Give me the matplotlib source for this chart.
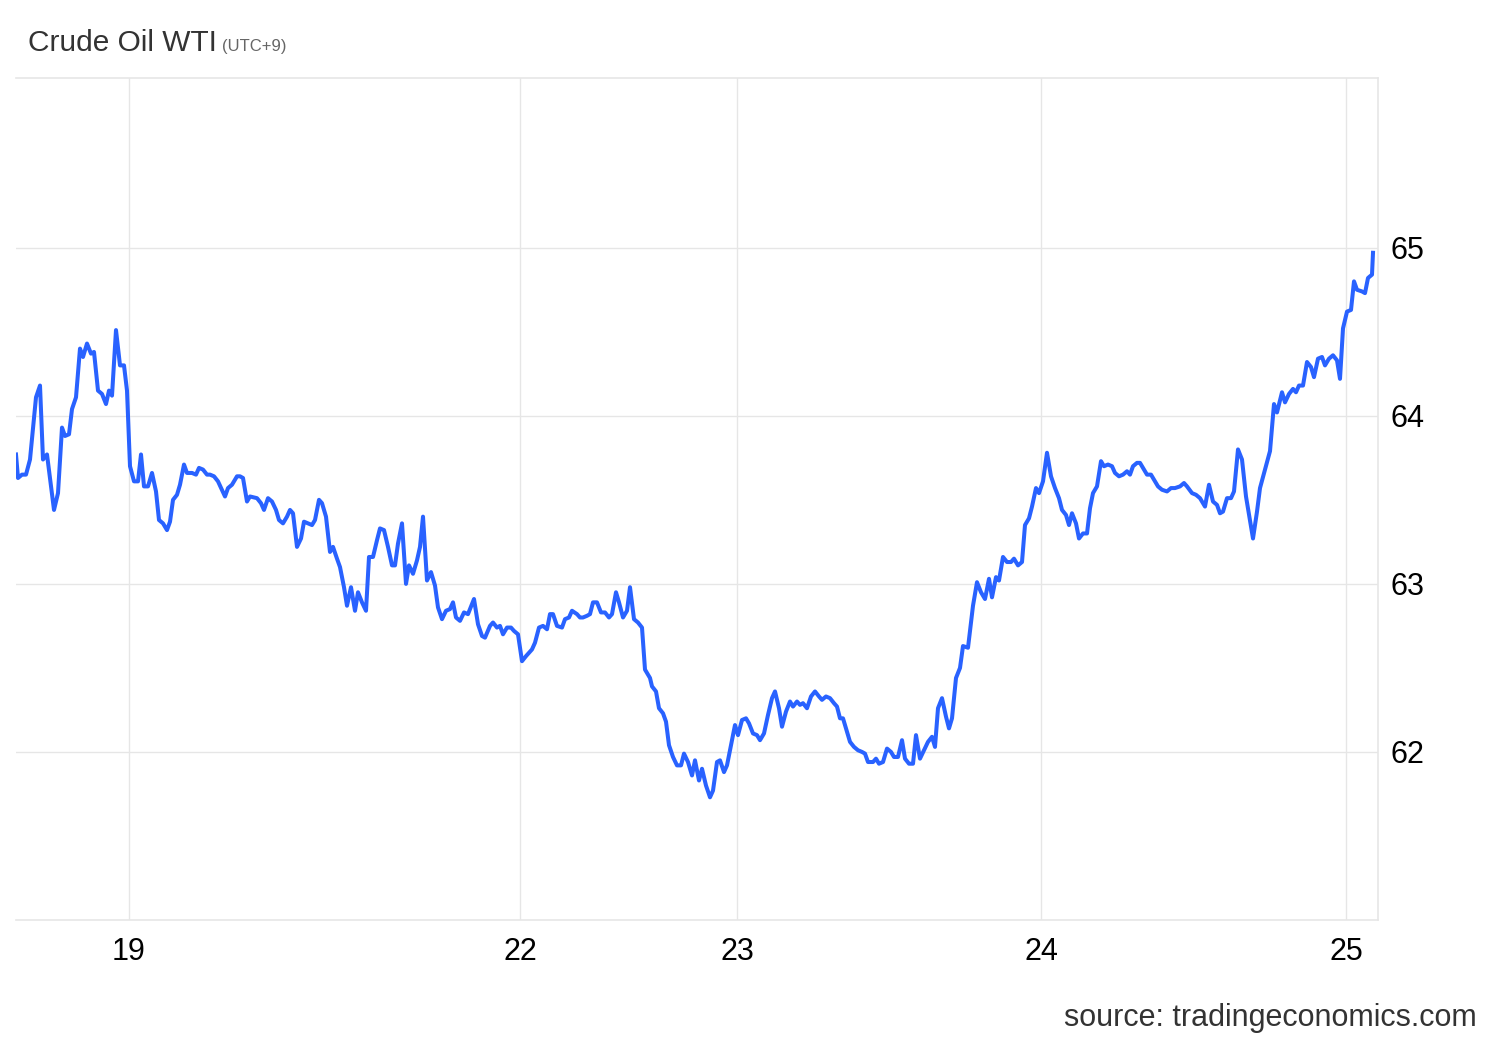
import matplotlib
matplotlib.use('Agg')
import matplotlib.pyplot as plt

plt.rcParams['font.family'] = ['Liberation Sans', 'DejaVu Sans']

# --- data: trading-time index (arbitrary units) and price ---
t = [16, 18, 22, 26, 30, 36, 40, 43, 47, 54, 58, 62, 65, 69, 72, 76, 80, 83, 87, 91,
     94, 98, 102, 106, 109, 112, 116, 120, 124, 127, 130, 134, 138, 141, 144, 148, 152, 156, 159, 163,
     167, 170, 173, 177, 180, 184, 187, 192, 196, 199, 203, 207, 210, 214, 218, 225, 228, 232, 237, 240,
     243, 247, 250, 257, 261, 264, 268, 272, 276, 279, 283, 287, 290, 293, 297, 301, 304, 308, 312, 315,
     319, 322, 326, 330, 333, 337, 340, 344, 347, 351, 355, 358, 362, 366, 369, 373, 377, 380, 384, 388,
     392, 395, 398, 402, 406, 409, 413, 417, 420, 423, 427, 431, 435, 438, 442, 446, 450, 453, 456, 460,
     464, 468, 474, 478, 482, 485, 490, 493, 497, 500, 503, 507, 511, 514, 518, 522, 526, 532, 535, 539,
     543, 547, 550, 553, 557, 562, 565, 569, 572, 577, 580, 583, 587, 590, 593, 597, 601, 605, 609, 612,
     616, 619, 623, 627, 630, 634, 638, 642, 645, 650, 652, 656, 659, 663, 666, 669, 673, 677, 681, 684,
     688, 692, 695, 699, 702, 706, 710, 713, 717, 720, 724, 727, 731, 735, 738, 742, 746, 749, 753, 757,
     760, 764, 768, 772, 775, 779, 782, 786, 790, 793, 797, 800, 803, 807, 811, 815, 819, 822, 826, 830,
     834, 837, 840, 843, 847, 850, 854, 858, 862, 865, 868, 873, 876, 879, 883, 887, 891, 894, 898, 902,
     905, 909, 913, 916, 920, 924, 928, 932, 935, 938, 942, 946, 949, 952, 956, 960, 963, 968, 973, 977,
     981, 985, 989, 992, 996, 999, 1003, 1007, 1011, 1014, 1018, 1022, 1025, 1029, 1032, 1036, 1039, 1043, 1047, 1051,
     1055, 1059, 1062, 1066, 1069, 1072, 1076, 1079, 1083, 1087, 1090, 1093, 1097, 1101, 1104, 1108, 1112, 1115, 1119, 1123,
     1127, 1130, 1133, 1137, 1140, 1144, 1147, 1151, 1155, 1158, 1162, 1167, 1171, 1175, 1180, 1184, 1187, 1192, 1196, 1200,
     1205, 1209, 1213, 1217, 1220, 1223, 1227, 1231, 1234, 1238, 1242, 1246, 1253, 1257, 1260, 1265, 1270, 1274, 1277, 1282,
     1285, 1289, 1293, 1296, 1299, 1303, 1307, 1311, 1314, 1318, 1322, 1325, 1329, 1333, 1337, 1340, 1343, 1347, 1351, 1354,
     1357, 1362, 1365, 1368, 1372, 1373]

price = [63.77, 63.63, 63.65, 63.65, 63.74, 64.11, 64.18, 63.74, 63.77, 63.44, 63.54, 63.93, 63.88, 63.89, 64.04, 64.11, 64.40, 64.35, 64.43, 64.37,
         64.38, 64.15, 64.13, 64.07, 64.15, 64.12, 64.51, 64.30, 64.30, 64.15, 63.70, 63.61, 63.61, 63.77, 63.58, 63.58, 63.66, 63.55, 63.38, 63.36,
         63.32, 63.37, 63.50, 63.53, 63.59, 63.71, 63.66, 63.66, 63.65, 63.69, 63.68, 63.65, 63.65, 63.64, 63.61, 63.52, 63.57, 63.59, 63.64, 63.64,
         63.63, 63.49, 63.52, 63.51, 63.48, 63.44, 63.51, 63.49, 63.44, 63.38, 63.36, 63.40, 63.44, 63.42, 63.22, 63.27, 63.37, 63.36, 63.35, 63.38,
         63.50, 63.48, 63.40, 63.19, 63.22, 63.15, 63.10, 62.98, 62.87, 62.98, 62.84, 62.95, 62.89, 62.84, 63.16, 63.16, 63.26, 63.33, 63.32, 63.22,
         63.11, 63.11, 63.24, 63.36, 63.00, 63.11, 63.06, 63.14, 63.22, 63.40, 63.02, 63.07, 62.99, 62.86, 62.79, 62.84, 62.85, 62.89, 62.80, 62.78,
         62.83, 62.82, 62.91, 62.76, 62.69, 62.68, 62.75, 62.77, 62.74, 62.75, 62.70, 62.74, 62.74, 62.72, 62.70, 62.54, 62.57, 62.61, 62.65, 62.74,
         62.75, 62.73, 62.82, 62.82, 62.75, 62.74, 62.79, 62.80, 62.84, 62.82, 62.80, 62.80, 62.81, 62.82, 62.89, 62.89, 62.83, 62.83, 62.80, 62.82,
         62.95, 62.89, 62.80, 62.84, 62.98, 62.79, 62.77, 62.74, 62.49, 62.44, 62.39, 62.36, 62.26, 62.23, 62.18, 62.04, 61.97, 61.92, 61.92, 61.99,
         61.94, 61.86, 61.95, 61.83, 61.90, 61.80, 61.73, 61.77, 61.94, 61.95, 61.88, 61.92, 62.04, 62.16, 62.10, 62.19, 62.20, 62.17, 62.11, 62.10,
         62.07, 62.11, 62.22, 62.32, 62.36, 62.26, 62.15, 62.24, 62.30, 62.27, 62.30, 62.28, 62.29, 62.26, 62.33, 62.36, 62.33, 62.31, 62.33, 62.32,
         62.29, 62.27, 62.20, 62.20, 62.12, 62.06, 62.03, 62.01, 62.00, 61.99, 61.94, 61.94, 61.96, 61.93, 61.94, 62.02, 62.00, 61.97, 61.97, 62.07,
         61.96, 61.93, 61.93, 62.10, 61.96, 62.01, 62.06, 62.09, 62.03, 62.26, 62.32, 62.21, 62.14, 62.20, 62.44, 62.50, 62.63, 62.62, 62.87, 63.01,
         62.95, 62.91, 63.03, 62.92, 63.04, 63.02, 63.16, 63.13, 63.13, 63.15, 63.11, 63.13, 63.35, 63.39, 63.46, 63.57, 63.54, 63.61, 63.78, 63.64,
         63.57, 63.51, 63.44, 63.41, 63.35, 63.42, 63.36, 63.27, 63.30, 63.30, 63.45, 63.54, 63.58, 63.73, 63.70, 63.71, 63.70, 63.66, 63.64, 63.65,
         63.67, 63.65, 63.70, 63.72, 63.72, 63.68, 63.65, 63.65, 63.61, 63.58, 63.56, 63.55, 63.57, 63.57, 63.58, 63.60, 63.58, 63.54, 63.53, 63.51,
         63.46, 63.59, 63.49, 63.47, 63.42, 63.43, 63.51, 63.51, 63.55, 63.80, 63.74, 63.52, 63.27, 63.43, 63.57, 63.68, 63.79, 64.07, 64.02, 64.14,
         64.08, 64.13, 64.16, 64.14, 64.18, 64.18, 64.32, 64.29, 64.23, 64.34, 64.35, 64.30, 64.34, 64.36, 64.33, 64.22, 64.52, 64.62, 64.63, 64.80,
         64.75, 64.74, 64.73, 64.82, 64.84, 64.97]

day_ticks = [129, 520, 737, 1041, 1346]
day_labels = ['19', '22', '23', '24', '25']
price_ticks = [62, 63, 64, 65]

GRID = '#e6e6e6'
LINE = '#2962ff'

fig = plt.figure(figsize=(15, 10.4), dpi=100)
ax = fig.add_axes([16 / 1500, 1 - 920 / 1040, (1378 - 16) / 1500, (920 - 78) / 1040])

ax.plot(t, price, color=LINE, lw=2.9, solid_joinstyle='round', zorder=3)

ax.set_xlim(16, 1378)
ax.set_ylim(61.0, 66.01)
ax.set_xticks(day_ticks)
ax.set_xticklabels(day_labels)
ax.set_yticks(price_ticks)
ax.yaxis.tick_right()
ax.tick_params(axis='both', length=0, labelsize=22, colors='#000000')
ax.tick_params(axis='x', pad=12)
ax.tick_params(axis='y', pad=9)
ax.grid(True, color=GRID, lw=1.0)
ax.set_axisbelow(True)

ax.spines['left'].set_visible(False)
for side in ['top', 'bottom', 'right']:
    ax.spines[side].set_color(GRID)
    ax.spines[side].set_linewidth(1.2)

fig.text(28 / 1500, 1 - 51 / 1040, 'Crude Oil WTI', fontsize=21.5, color='#333333', va='baseline')
fig.text(222 / 1500, 1 - 51 / 1040, '(UTC+9)', fontsize=12, color='#666666', va='baseline')
fig.text(1477 / 1500, 1 - 1026 / 1040, 'source: tradingeconomics.com', fontsize=22,
         color='#333333', ha='right', va='baseline')

fig.savefig('out.png', dpi=100)
